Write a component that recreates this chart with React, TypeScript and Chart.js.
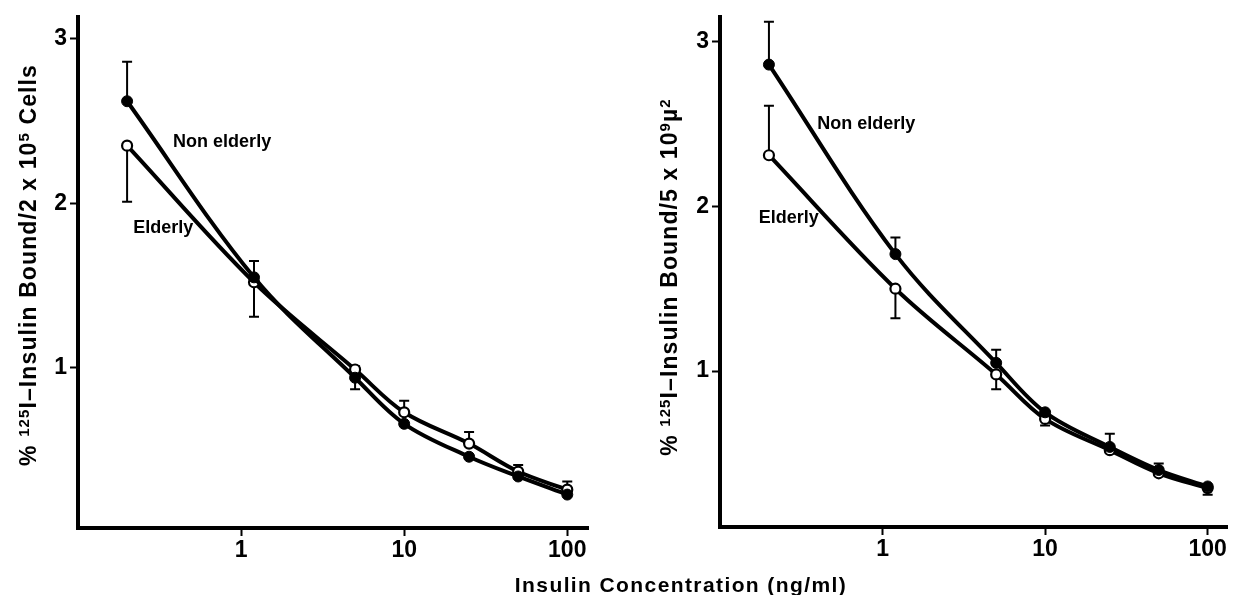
import React, { useEffect, useRef } from "react";
import { Chart, registerables } from "chart.js";

Chart.register(...registerables);

// ---------- data ----------
const concentrations = [0.2, 1.2, 5, 10, 25, 50, 100];
const xTickValues = [1, 10, 100];
const yTickValues = [1, 2, 3];

// Panel A: per 2 x 10^5 cells
const cellsNonElderly = [2.62, 1.55, 0.94, 0.66, 0.46, 0.34, 0.23];
const cellsElderly = [2.35, 1.52, 0.99, 0.73, 0.54, 0.37, 0.26];
const cellsNonElderlyErrEnd = [2.86, 1.65, 0.87, null, null, null, null];
const cellsElderlyErrEnd = [2.01, 1.31, 1.01, 0.8, 0.61, 0.41, 0.31];

// Panel B: per 5 x 10^9 µ^2
const areaNonElderly = [2.86, 1.71, 1.05, 0.75, 0.54, 0.4, 0.3];
const areaElderly = [2.31, 1.5, 0.98, 0.71, 0.52, 0.38, 0.29];
const areaNonElderlyErrEnd = [3.12, 1.81, 1.13, null, 0.62, 0.44, null];
const areaElderlyErrEnd = [2.61, 1.32, 0.89, 0.67, null, null, 0.25];

const seriesNames = ["Non elderly", "Elderly"];

const FONT = '"Liberation Sans", Arial, Helvetica, sans-serif';

type TitlePart = [string, boolean];

const leftTitle: TitlePart[] = [
  ["% ", false],
  ["125", true],
  ["I\u2013Insulin Bound/2 x 10", false],
  ["5", true],
  [" Cells", false],
];
const rightTitle: TitlePart[] = [
  ["% ", false],
  ["125", true],
  ["I\u2013Insulin Bound/5 x 10", false],
  ["9", true],
  ["\u00b5", false],
  ["2", true],
];

interface PanelProps {
  width: number;
  left: number;
  nonElderly: number[];
  elderly: number[];
  nonElderlyErr: (number | null)[];
  elderlyErr: (number | null)[];
  yMin: number;
  yMax: number;
  xMax: number;
  yAxisWidth: number;
  padTop: number;
  padRight: number;
  xAxisHeight: number;
  title: TitlePart[];
  titleX: number;
  titleY: number;
  labels: { text: string; x: number; y: number }[];
}

const errorBarPlugin = {
  id: "errorBars",
  beforeDatasetsDraw(chart: any) {
    const ctx = chart.ctx;
    const yScale = chart.scales.y;
    ctx.save();
    ctx.strokeStyle = "#000";
    ctx.lineWidth = 2;
    chart.data.datasets.forEach((ds: any, di: number) => {
      const meta = chart.getDatasetMeta(di);
      (ds.errEnd || []).forEach((v: number | null, i: number) => {
        if (v === null || v === undefined) return;
        const el = meta.data[i];
        if (!el) return;
        const yEnd = yScale.getPixelForValue(v);
        ctx.beginPath();
        ctx.moveTo(el.x, el.y);
        ctx.lineTo(el.x, yEnd);
        ctx.moveTo(el.x - 5, yEnd);
        ctx.lineTo(el.x + 5, yEnd);
        ctx.stroke();
      });
    });
    ctx.restore();
  },
};

function makeLabelPlugin(labels: { text: string; x: number; y: number }[]) {
  return {
    id: "seriesLabels",
    afterDatasetsDraw(chart: any) {
      const ctx = chart.ctx;
      ctx.save();
      ctx.fillStyle = "#000";
      ctx.font = `bold 18px ${FONT}`;
      ctx.textAlign = "left";
      ctx.textBaseline = "middle";
      labels.forEach((l) => {
        ctx.fillText(
          l.text,
          chart.scales.x.getPixelForValue(l.x),
          chart.scales.y.getPixelForValue(l.y)
        );
      });
      ctx.restore();
    },
  };
}

function makeTitlePlugin(parts: TitlePart[], cx: number, cy: number) {
  return {
    id: "yTitle",
    afterDraw(chart: any) {
      const ctx = chart.ctx;
      const mainFont = `bold 23px ${FONT}`;
      const supFont = `bold 15px ${FONT}`;
      ctx.save();
      (ctx as any).letterSpacing = "1.1px";
      const widths = parts.map(([t, sup]) => {
        ctx.font = sup ? supFont : mainFont;
        return ctx.measureText(t).width;
      });
      const total = widths.reduce((a, b) => a + b, 0);
      ctx.translate(cx, cy);
      ctx.rotate(-Math.PI / 2);
      ctx.fillStyle = "#000";
      ctx.textAlign = "left";
      ctx.textBaseline = "alphabetic";
      let x = -total / 2;
      parts.forEach(([t, sup], i) => {
        ctx.font = sup ? supFont : mainFont;
        ctx.fillText(t, x, sup ? -7 : 0);
        x += widths[i];
      });
      ctx.restore();
    },
  };
}

function Panel(p: PanelProps) {
  const ref = useRef<HTMLCanvasElement | null>(null);
  useEffect(() => {
    if (!ref.current) return;
    const tickFont = { family: FONT, size: 23, weight: "bold" as const };
    const grid = {
      display: true,
      drawOnChartArea: false,
      drawTicks: true,
      tickLength: 8,
      tickWidth: 2,
      tickColor: "#000",
    };
    const border = { display: true, color: "#000", width: 4 };
    const lineStyle = {
      borderColor: "#000",
      borderWidth: 4,
      tension: 0.35,
      cubicInterpolationMode: "default",
      fill: false,
      clip: false,
    };
    const chart = new Chart(ref.current, {
      type: "line",
      data: {
        datasets: [
          {
            ...lineStyle,
            label: seriesNames[0],
            data: concentrations.map((x, i) => ({ x, y: p.nonElderly[i] })),
            pointRadius: 5.5,
            pointBackgroundColor: "#000",
            pointBorderColor: "#000",
            pointBorderWidth: 1,
            errEnd: p.nonElderlyErr,
          } as any,
          {
            ...lineStyle,
            label: seriesNames[1],
            data: concentrations.map((x, i) => ({ x, y: p.elderly[i] })),
            pointRadius: 5,
            pointBackgroundColor: "#fff",
            pointBorderColor: "#000",
            pointBorderWidth: 2.2,
            errEnd: p.elderlyErr,
          } as any,
        ],
      },
      options: {
        animation: false,
        responsive: false,
        maintainAspectRatio: false,
        events: [],
        layout: { padding: { left: 0, right: p.padRight, top: p.padTop, bottom: 0 } },
        plugins: { legend: { display: false }, tooltip: { enabled: false }, title: { display: false } },
        scales: {
          x: {
            type: "logarithmic",
            position: "bottom",
            min: 0.1,
            max: p.xMax,
            bounds: "data",
            afterBuildTicks: (s: any) => {
              s.ticks = xTickValues.map((v) => ({ value: v }));
            },
            afterFit: (s: any) => {
              s.height = p.xAxisHeight;
            },
            ticks: {
              autoSkip: false,
              maxRotation: 0,
              minRotation: 0,
              padding: 1,
              color: "#000",
              font: tickFont,
              callback: (v: any) => String(v),
            },
            grid,
            border,
          },
          y: {
            type: "linear",
            position: "left",
            min: p.yMin,
            max: p.yMax,
            bounds: "data",
            afterBuildTicks: (s: any) => {
              s.ticks = yTickValues.map((v) => ({ value: v }));
            },
            afterFit: (s: any) => {
              s.width = p.yAxisWidth;
            },
            ticks: {
              padding: 3,
              color: "#000",
              font: tickFont,
              callback: (v: any) => String(v),
            },
            grid,
            border,
          },
        } as any,
      },
      plugins: [
        errorBarPlugin,
        makeLabelPlugin(p.labels),
        makeTitlePlugin(p.title, p.titleX, p.titleY),
      ],
    });
    return () => chart.destroy();
  }, []);
  return (
    <canvas
      ref={ref}
      width={p.width}
      height={595}
      style={{ position: "absolute", left: p.left, top: 0, width: p.width, height: 595, display: "block" }}
    />
  );
}

export default function App() {
  return (
    <div
      style={{
        position: "absolute",
        left: 0,
        top: 0,
        width: 1235,
        height: 595,
        overflow: "hidden",
        background: "#fff",
      }}
    >
      <Panel
        width={610}
        left={0}
        nonElderly={cellsNonElderly}
        elderly={cellsElderly}
        nonElderlyErr={cellsNonElderlyErrEnd}
        elderlyErr={cellsElderlyErrEnd}
        yMin={0.027}
        yMax={3.133}
        xMax={134}
        yAxisWidth={78}
        padTop={14}
        padRight={22}
        xAxisHeight={67}
        title={leftTitle}
        titleX={36}
        titleY={265}
        labels={[
          { text: seriesNames[0], x: 0.383, y: 2.37 },
          { text: seriesNames[1], x: 0.218, y: 1.85 },
        ]}
      />
      <Panel
        width={625}
        left={610}
        nonElderly={areaNonElderly}
        elderly={areaElderly}
        nonElderlyErr={areaNonElderlyErrEnd}
        elderlyErr={areaElderlyErrEnd}
        yMin={0.054}
        yMax={3.15}
        xMax={133}
        yAxisWidth={110}
        padTop={10}
        padRight={3}
        xAxisHeight={68}
        title={rightTitle}
        titleX={67}
        titleY={277}
        labels={[
          { text: seriesNames[0], x: 0.396, y: 2.5 },
          { text: seriesNames[1], x: 0.173, y: 1.93 },
        ]}
      />
      <div
        style={{
          position: "absolute",
          left: 381,
          top: 574,
          width: 600,
          textAlign: "center",
          font: `bold 21px ${FONT}`,
          lineHeight: "21px",
          letterSpacing: "1.4px",
          color: "#000",
          whiteSpace: "nowrap",
        }}
      >
        Insulin Concentration (ng/ml)
      </div>
    </div>
  );
}
